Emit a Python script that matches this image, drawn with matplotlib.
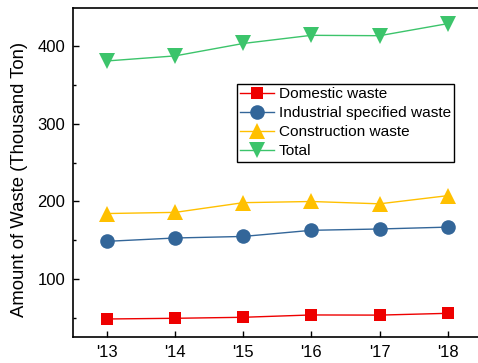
import matplotlib
matplotlib.use('Agg')
import matplotlib.pyplot as plt
from matplotlib.ticker import MultipleLocator

plt.rcParams['font.family'] = ['Liberation Sans', 'DejaVu Sans']

years = [2013, 2014, 2015, 2016, 2017, 2018]
year_labels = ["'13", "'14", "'15", "'16", "'17", "'18"]

domestic = [48.7, 49.6, 50.9, 53.9, 53.7, 56.0]
industrial = [148.7, 153.0, 155.0, 162.9, 164.6, 167.0]
construction = [184.5, 186.0, 198.5, 200.0, 197.0, 207.5]
total = [381.0, 387.5, 403.5, 414.0, 413.5, 429.0]

series = [
    ('Domestic waste', domestic, '#ee0000', 's', 9),
    ('Industrial specified waste', industrial, '#336699', 'o', 10.5),
    ('Construction waste', construction, '#ffc000', '^', 11),
    ('Total', total, '#3cc46b', 'v', 11),
]

fig = plt.figure(figsize=(4.78, 3.63), dpi=100)
ax = fig.add_axes([0.1527, 0.0716, 0.855, 0.906])

for name, vals, col, mk, ms in series:
    ax.plot(years, vals, color=col, marker=mk, markersize=ms,
            markeredgewidth=0, linewidth=1.0, label=name)

ax.set_xlim(2012.5, 2018.5)
ax.set_ylim(25.5, 449)
ax.set_xticks(years)
ax.set_xticklabels(year_labels)
ax.yaxis.set_major_locator(MultipleLocator(100))
ax.yaxis.set_minor_locator(MultipleLocator(50))
ax.tick_params(axis='both', which='major', direction='in', length=4.5,
               width=1, labelsize=12, pad=5.5)
ax.tick_params(axis='y', which='minor', direction='in', length=2.5, width=1)
ax.set_ylabel('Amount of Waste (Thousand Ton)', fontsize=13.3)
ax.yaxis.set_label_coords(-0.11, 0.479)

for sp in ax.spines.values():
    sp.set_linewidth(1.2)

leg = ax.legend(loc='upper left', bbox_to_anchor=(0.4006, 0.769),
                borderaxespad=0, fontsize=11.1, fancybox=False,
                edgecolor='black', framealpha=1, handlelength=2.2,
                handletextpad=0.35, labelspacing=0.33, borderpad=0.2)
leg.get_frame().set_linewidth(1.0)

fig.savefig('out.png', dpi=100)
